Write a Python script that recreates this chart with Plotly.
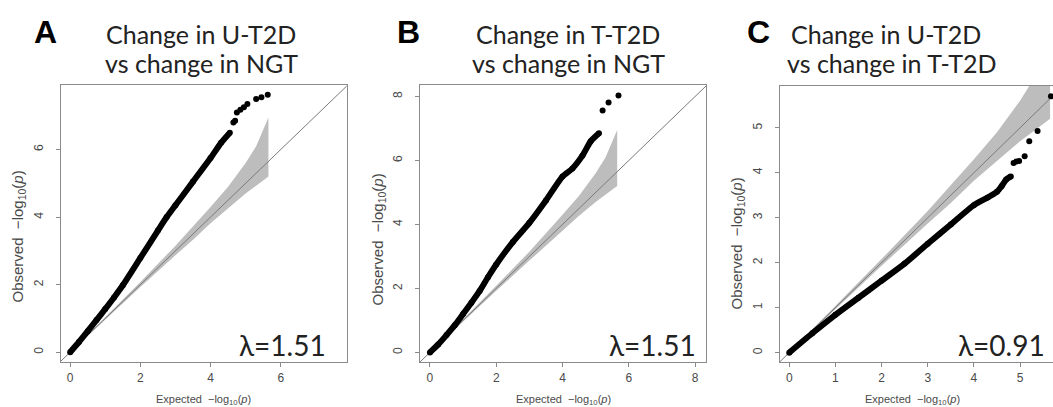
import plotly.graph_objects as go

W, H = 1053, 407

# ---------------- data ----------------
# Panel A: change in U-T2D vs change in NGT
a_exp = [0, 0.25, 0.5, 0.75, 1.0, 1.25, 1.5, 2.0, 2.5, 2.75, 3.0, 3.5, 4.0, 4.3, 4.55]
a_obs = [0, 0.3, 0.62, 0.95, 1.28, 1.62, 1.98, 2.79, 3.6, 4.0, 4.35, 5.05, 5.75, 6.2, 6.5]
a_tail_exp = [4.65, 4.7, 4.75, 4.85, 4.95, 5.05, 5.3, 5.45, 5.63]
a_tail_obs = [6.8, 6.85, 7.1, 7.18, 7.25, 7.35, 7.5, 7.55, 7.62]

# Panel B: change in T-T2D vs change in NGT
b_exp = [0, 0.25, 0.5, 0.75, 1.0, 1.25, 1.5, 1.75, 2.0, 2.5, 3.0, 3.5, 4.0, 4.3, 4.6, 4.85, 5.1]
b_obs = [0, 0.25, 0.54, 0.85, 1.2, 1.55, 1.92, 2.35, 2.75, 3.45, 4.05, 4.75, 5.5, 5.75, 6.15, 6.6, 6.85]
b_tail_exp = [5.21, 5.39, 5.69]
b_tail_obs = [7.56, 7.81, 8.03]

# Panel C: change in U-T2D vs change in T-T2D
c_exp = [0, 0.5, 1.0, 1.5, 2.0, 2.5, 3.0, 3.5, 4.0, 4.3, 4.5, 4.6, 4.7, 4.8]
c_obs = [0, 0.43, 0.84, 1.22, 1.6, 1.98, 2.42, 2.85, 3.28, 3.45, 3.58, 3.7, 3.85, 3.92]
c_tail_exp = [4.86, 4.92, 4.98, 5.1, 5.2, 5.38, 5.67]
c_tail_obs = [4.22, 4.25, 4.26, 4.37, 4.7, 4.93, 5.70]

# 95% confidence band around the null
band_exp = [0, 1, 2, 3, 3.5, 4, 4.5, 5.0, 5.3, 5.65]
band_lo = [0, 0.97, 1.93, 2.87, 3.33, 3.82, 4.27, 4.7, 4.93, 5.2]
band_hi = [0, 1.03, 2.08, 3.15, 3.72, 4.3, 4.9, 5.6, 6.1, 6.95]

panel_letters = ["A", "B", "C"]
title_line1 = ["Change in U-T2D", "Change in T-T2D", "Change in U-T2D"]
title_line2 = ["vs change in NGT", "vs change in NGT", "vs change in T-T2D"]
lambdas = ["λ=1.51", "λ=1.51", "λ=0.91"]
x_ticks = [[0, 2, 4, 6], [0, 2, 4, 6, 8], [0, 1, 2, 3, 4, 5]]
y_ticks = [[0, 2, 4, 6], [0, 2, 4, 6, 8], [0, 1, 2, 3, 4, 5]]

# ---------------- layout geometry (pixels) ----------------
boxes = [  # left, right, top, bottom
    (60.7, 346.7, 84.7, 362.3),
    (420.0, 706.0, 84.7, 362.3),
    (780.0, 1053.0, 86.0, 362.3),
]
x_ranges = [[-0.27, 7.88], [-0.30, 8.33], [-0.20, 5.714]]
y_ranges = [[-0.30, 7.92], [-0.31, 8.37], [-0.215, 5.93]]

series = [
    (a_exp, a_obs, a_tail_exp, a_tail_obs),
    (b_exp, b_obs, b_tail_exp, b_tail_obs),
    (c_exp, c_obs, c_tail_exp, c_tail_obs),
]

AX_COL = "#8a8a8a"
TXT_COL = "#4a4a4a"
TICK_FONT = dict(family="Liberation Sans, Arial, sans-serif", size=12, color=TXT_COL)
TITLE_FONT = dict(family="Lato, Open Sans, sans-serif", size=25, color="#222222")

fig = go.Figure()
layout = dict(
    width=W, height=H, margin=dict(l=0, r=0, t=0, b=0),
    paper_bgcolor="white", plot_bgcolor="white", showlegend=False,
)
annotations = []


def px2x(px):
    return px / W


def py2y(py):
    return 1 - py / H


for i in range(3):
    sfx = "" if i == 0 else str(i + 1)
    xa, ya = "x" + sfx, "y" + sfx
    l, r, t, b = boxes[i]
    ex, ob, tex, tob = series[i]

    # confidence band
    fig.add_trace(go.Scatter(
        x=band_exp + band_exp[::-1], y=band_lo + band_hi[::-1],
        fill="toself", fillcolor="#bdbdbd", line=dict(width=0),
        mode="lines", xaxis=xa, yaxis=ya, hoverinfo="skip"))
    # identity line
    fig.add_trace(go.Scatter(
        x=[-1, 10], y=[-1, 10], mode="lines",
        line=dict(color="#7a7a7a", width=1), xaxis=xa, yaxis=ya, hoverinfo="skip"))
    # main QQ curve (dense points drawn as thick black line)
    fig.add_trace(go.Scatter(
        x=ex, y=ob, mode="lines+markers",
        line=dict(color="black", width=6, shape="spline", smoothing=0.6),
        marker=dict(color="black", size=6),
        xaxis=xa, yaxis=ya, cliponaxis=True))
    # tail points
    fig.add_trace(go.Scatter(
        x=tex, y=tob, mode="markers",
        marker=dict(color="black", size=6),
        xaxis=xa, yaxis=ya, cliponaxis=True))

    common = dict(showgrid=False, zeroline=False, showline=True, linecolor=AX_COL,
                  linewidth=1, ticks="outside", ticklen=4, tickcolor=AX_COL,
                  tickfont=TICK_FONT, fixedrange=True)
    layout["xaxis" + sfx] = dict(
        domain=[px2x(l), px2x(r)], range=x_ranges[i], anchor=ya,
        tickvals=x_ticks[i], mirror=True, ticklabelstandoff=0, **common)
    layout["yaxis" + sfx] = dict(
        domain=[py2y(b), py2y(t)], range=y_ranges[i], anchor=xa,
        tickvals=y_ticks[i], tickangle=-90, mirror=(i < 2), ticklabelstandoff=8,
        **common)

    cx = (l + r) / 2 if i < 2 else 912
    # x axis title
    annotations.append(dict(
        x=px2x(cx), y=py2y(400), xref="paper", yref="paper",
        text="Expected  \u2212log<sub>10</sub>(<i>p</i>)", showarrow=False,
        font=dict(family="Liberation Sans, Arial, sans-serif", size=11, color=TXT_COL),
        xanchor="center", yanchor="middle"))
    # y axis title
    ytx = [17.5, 377.5, 737.5][i]
    yty = [237, 240, 244][i]
    annotations.append(dict(
        x=px2x(ytx), y=py2y(yty), xref="paper", yref="paper",
        text="Observed  \u2212log<sub>10</sub>(<i>p</i>)", showarrow=False, textangle=-90,
        font=dict(family="Liberation Sans, Arial, sans-serif", size=15, color=TXT_COL),
        xanchor="center", yanchor="middle"))
    # panel letter
    lx = [45, 408, 758][i]
    annotations.append(dict(
        x=px2x(lx), y=py2y(32), xref="paper", yref="paper",
        text="<b>" + panel_letters[i] + "</b>", showarrow=False,
        font=dict(family="Liberation Sans, Arial, sans-serif", size=32, color="black"),
        xanchor="center", yanchor="middle"))
    # title (two lines)
    tx1 = [201, 568, 886][i]
    tx2 = [201, 568, 891][i]
    annotations.append(dict(
        x=px2x(tx1), y=py2y(34), xref="paper", yref="paper",
        text=title_line1[i], showarrow=False, font=TITLE_FONT,
        xanchor="center", yanchor="middle"))
    annotations.append(dict(
        x=px2x(tx2), y=py2y(63), xref="paper", yref="paper",
        text=title_line2[i], showarrow=False, font=TITLE_FONT,
        xanchor="center", yanchor="middle"))
    # lambda
    lrx = [328, 698, 1047][i]
    annotations.append(dict(
        x=px2x(lrx), y=py2y(345), xref="paper", yref="paper",
        text=lambdas[i], showarrow=False,
        font=dict(family="Lato, Open Sans, sans-serif", size=28, color="#222222"),
        xanchor="right", yanchor="middle"))

layout["annotations"] = annotations
fig.update_layout(**layout)
fig.write_html("out.html")
